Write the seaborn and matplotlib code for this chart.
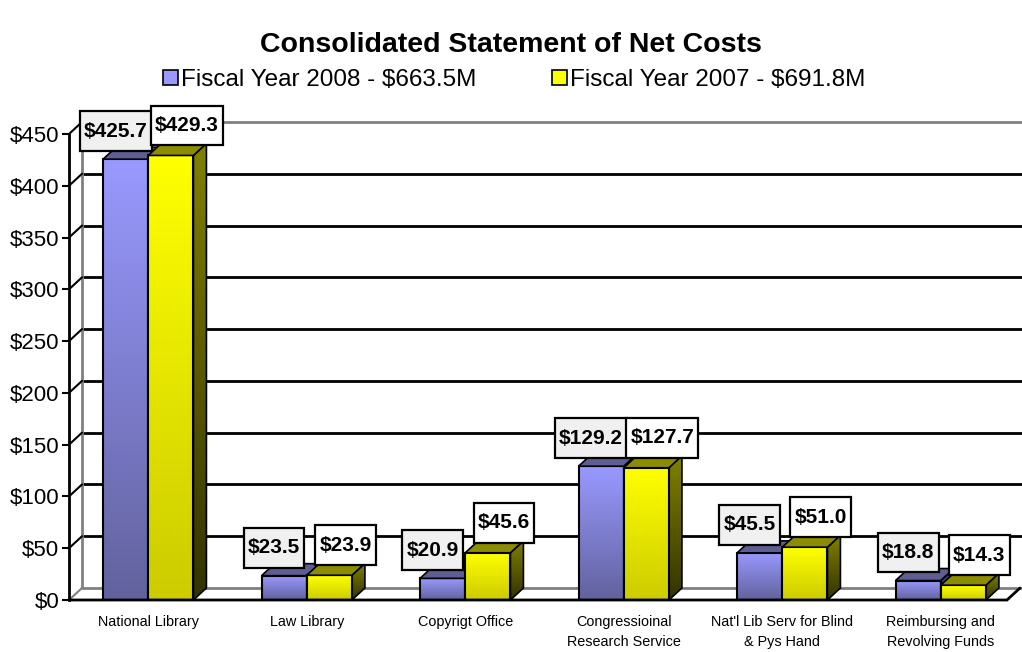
import numpy as np
import pandas as pd
import seaborn as sns
import matplotlib
matplotlib.use("Agg")
import matplotlib.pyplot as plt
from matplotlib.patches import Polygon, Patch
from matplotlib.path import Path
from matplotlib.colors import to_rgb

# ---------------- data ----------------
title = "Consolidated Statement of Net Costs"
categories = ["National Library", "Law Library", "Copyrigt Office",
              "Congressioinal\nResearch Service",
              "Nat'l Lib Serv for Blind\n& Pys Hand",
              "Reimbursing and\nRevolving Funds"]
series = ["Fiscal Year 2008 - $663.5M", "Fiscal Year 2007 - $691.8M"]
fy2008 = [425.7, 23.5, 20.9, 129.2, 45.5, 18.8]
fy2007 = [429.3, 23.9, 45.6, 127.7, 51.0, 14.3]
yticks = [0, 50, 100, 150, 200, 250, 300, 350, 400, 450]
ytick_labels = ["$0", "$50", "$100", "$150", "$200", "$250", "$300", "$350", "$400", "$450"]

df = pd.DataFrame({
    "category": categories * 2,
    "value": fy2008 + fy2007,
    "series": [series[0]] * len(categories) + [series[1]] * len(categories),
})

# ---------------- style ----------------
sns.set_style("white")
plt.rcParams["font.family"] = ["Liberation Sans", "DejaVu Sans"]
for k in ("text.color", "xtick.color", "ytick.color", "axes.labelcolor"):
    plt.rcParams[k] = "black"

W, H = 1022, 652
fig = plt.figure(figsize=(W / 100, H / 100), dpi=100)
ax = fig.add_axes([69 / W, 52 / H, (1020 - 69) / W, 466 / H])

blue = "#9999ff"
yellow = "#ffff00"
sns.barplot(data=df, x="category", y="value", hue="series", order=categories,
            hue_order=series, palette=[blue, yellow], width=0.57, saturation=1,
            legend=False, ax=ax, edgecolor="black", linewidth=1.5)
XL, YL = (-0.5, len(categories) - 0.5), (0, 450)
ax.set_xlim(*XL)
ax.set_ylim(*YL)

# 3D depth offset (pixels) converted to data units
DX, DY = 13, 12
inv = ax.transData.inverted()
o = ax.transData.transform((0, 0))
p0 = inv.transform(o)
p1 = inv.transform((o[0] + DX, o[1] + DY))
ddx, ddy = p1[0] - p0[0], p1[1] - p0[1]

def grad(c1, c2, n=64):
    a, b = np.array(to_rgb(c1)), np.array(to_rgb(c2))
    t = np.linspace(0, 1, n)[:, None]
    return (a * (1 - t) + b * t)[:, None, :]

styles = [
    dict(front=(blue, "#62629e"), top="#5e5e92", side=("#4a4a80", "#2a2a50"), lbl="#f0f0f0",
         off=(-10, 28)),
    dict(front=(yellow, "#cccc00"), top="#8c8c00", side=("#808000", "#333300"), lbl="#ffffff",
         off=(16, 30)),
]

def boxshape(x0, y0, width, height, mutation_size):
    px, py = 0.2 * mutation_size, 0.5 * mutation_size
    return Path([(x0 - px, y0 - py), (x0 + width + px, y0 - py),
                 (x0 + width + px, y0 + height + py), (x0 - px, y0 + height + py),
                 (x0 - px, y0 - py)], closed=True)

for si, cont in enumerate(ax.containers):
    st = styles[si]
    zb = 2 + si
    for bar in cont:
        x0, w, h = bar.get_x(), bar.get_width(), bar.get_height()
        x1 = x0 + w
        bar.set_facecolor("none")
        bar.set_zorder(zb + 0.3)
        ax.imshow(grad(*st["front"]), extent=[x0, x1, 0, h], aspect="auto",
                  origin="upper", zorder=zb, interpolation="bilinear")
        side = Polygon([(x1, 0), (x1 + ddx, ddy), (x1 + ddx, h + ddy), (x1, h)],
                       closed=True, fc="none", ec="black", lw=1.2, zorder=zb + 0.4,
                       clip_on=False)
        ax.add_patch(side)
        im = ax.imshow(grad(*st["side"]), extent=[x1, x1 + ddx, 0, h + ddy],
                       aspect="auto", origin="upper", zorder=zb + 0.2,
                       interpolation="bilinear")
        im.set_clip_path(side)
        top = Polygon([(x0, h), (x1, h), (x1 + ddx, h + ddy), (x0 + ddx, h + ddy)],
                      closed=True, fc=st["top"], ec="black", lw=1.2, zorder=zb + 0.4,
                      clip_on=False)
        ax.add_patch(top)
        ax.annotate(f"${h:.1f}", xy=(x0 + w / 2, h), xytext=st["off"],
                    textcoords="offset pixels", ha="center", va="center",
                    fontsize=15, fontweight="bold", zorder=10, annotation_clip=False,
                    bbox=dict(boxstyle=boxshape, fc=st["lbl"], ec="black", lw=1.6))

ax.set_xlim(*XL)
ax.set_ylim(*YL)

# back wall gridlines, side wall and floor
for yv in yticks:
    col = "#808080" if yv in (yticks[0], yticks[-1]) else "black"
    ax.plot([XL[0] + ddx, XL[1] + ddx], [yv + ddy, yv + ddy], color=col, lw=2,
            zorder=0.5, clip_on=False, solid_capstyle="butt")
    if yv != yticks[0]:
        ax.plot([XL[0], XL[0] + ddx], [yv, yv + ddy], color="black", lw=1.5,
                zorder=0.6, clip_on=False)
ax.plot([XL[0] + ddx, XL[0] + ddx], [ddy, YL[1] + ddy], color="#808080", lw=2,
        zorder=0.5, clip_on=False)
ax.plot([XL[0], XL[0] + ddx], [0, ddy], color="#808080", lw=1.5, zorder=0.6, clip_on=False)
ax.plot([XL[0], XL[1] - ddx, XL[1]], [0, 0, ddy], color="black", lw=2, zorder=5,
        clip_on=False, solid_joinstyle="miter")

# axes styling
for s in ("top", "right", "bottom"):
    ax.spines[s].set_visible(False)
ax.spines["left"].set_color("black")
ax.spines["left"].set_linewidth(2)
ax.spines["left"].set_zorder(6)
ax.set_yticks(yticks)
ax.set_yticklabels(ytick_labels, fontsize=16)
ax.tick_params(axis="y", length=5, width=1.5, color="black", pad=2, left=True)
ax.set_xticks(range(len(categories)))
ax.set_xticklabels(categories, fontsize=10.4, linespacing=1.5)
ax.tick_params(axis="x", length=0, pad=11)
ax.set_xlabel("")
ax.set_ylabel("")
ax.grid(False)

# legend
handles = [Patch(fc=blue, ec="black", lw=1.2), Patch(fc=yellow, ec="black", lw=1.2)]
ax.legend(handles, series, loc="center", bbox_to_anchor=(0.503, 1 - 80 / H),
          bbox_transform=fig.transFigure, ncol=2, frameon=False, fontsize=17.5,
          handlelength=0.62, handleheight=0.62, handletextpad=0.12, columnspacing=3.1)

fig.text(0.5, 1 - 45 / H, title, ha="center", va="center", fontsize=20.5, fontweight="bold")

fig.savefig("out.png", dpi=100)
